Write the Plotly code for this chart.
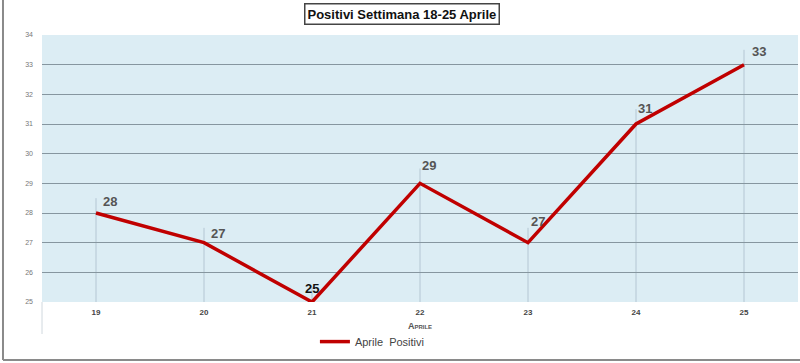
import plotly.graph_objects as go

days = ["19", "20", "21", "22", "23", "24", "25"]
positivi = [28, 27, 25, 29, 27, 31, 33]
label_colors = ["#555555", "#555555", "#111111", "#555555", "#555555", "#555555", "#555555"]
label_dx = [14, 14, 0, 9, 10, 9, 15]
label_dy = [12, 9, 14, 18, 21, 16, 13]
y_ticks = list(range(25, 35))

fig = go.Figure()

fig.add_trace(go.Scatter(
    x=days, y=positivi, mode="lines", name="Aprile  Positivi",
    line=dict(color="#c00000", width=3.5),
))

shapes = []
for i, v in enumerate(positivi):
    shapes.append(dict(type="line", xref="x", yref="y", x0=i, x1=i, y0=25, y1=v + 0.5,
                       line=dict(color="#b4c6d3", width=1), layer="below"))
# outer frame (left and bottom)
shapes.append(dict(type="line", xref="paper", yref="paper", x0=-0.0516, x1=-0.0516, y0=-0.217, y1=1.14,
                   line=dict(color="#8a8a8a", width=2)))
shapes.append(dict(type="line", xref="paper", yref="paper", x0=-0.0516, x1=1.01, y0=-0.217, y1=-0.217,
                   line=dict(color="#8a8a8a", width=2)))
# axis stub below plot
shapes.append(dict(type="line", xref="paper", yref="paper", x0=0, x1=0, y0=-0.12, y1=0,
                   line=dict(color="#d0d8de", width=1)))

annotations = []
for i, (v, c, dx, dy) in enumerate(zip(positivi, label_colors, label_dx, label_dy)):
    annotations.append(dict(x=i, y=v, xref="x", yref="y", text=f"<b>{v}</b>", showarrow=False,
                            xshift=dx, yshift=dy, font=dict(family="Liberation Sans, Arial", size=13, color=c)))
annotations.append(dict(x=0.476, y=1.08, xref="paper", yref="paper", text="<b>Positivi Settimana 18-25 Aprile</b>",
                        showarrow=False, bordercolor="#444444", borderwidth=1.5, borderpad=2,
                        bgcolor="white", xanchor="center", yanchor="middle",
                        font=dict(family="Liberation Sans, Arial", size=13, color="#111111")))

fig.update_layout(
    width=800, height=363,
    margin=dict(l=42, r=2, t=35, b=61, autoexpand=False),
    paper_bgcolor="white",
    plot_bgcolor="#dcedf4",
    showlegend=True,
    legend=dict(orientation="h", x=0.361, y=-0.094, xanchor="left", yanchor="top",
                font=dict(family="Liberation Sans, Arial", size=11, color="#444444"),
                bgcolor="rgba(0,0,0,0)"),
    shapes=shapes,
    annotations=annotations,
    xaxis=dict(type="category", range=[-0.5, 6.5], showgrid=False, zeroline=False,
               tickfont=dict(family="Liberation Sans, Arial", size=8, color="#444444", weight="bold"),
               ticks="", ticklabelstandoff=4,
               title=dict(text="Aprile", standoff=6,
                          font=dict(family="Liberation Sans, Arial", size=9, color="#555555",
                                    variant="small-caps", weight="bold"))),
    yaxis=dict(range=[25, 34], tickvals=y_ticks, showgrid=True, gridcolor="#86969f", gridwidth=1,
               zeroline=False, tickfont=dict(family="Liberation Sans, Arial", size=7, color="#777777"),
               ticks="", ticklabelstandoff=8),
)

fig.write_html("out.html", config={"displayModeBar": False},
               post_script="document.body.style.margin='0';document.body.style.overflow='hidden';")
